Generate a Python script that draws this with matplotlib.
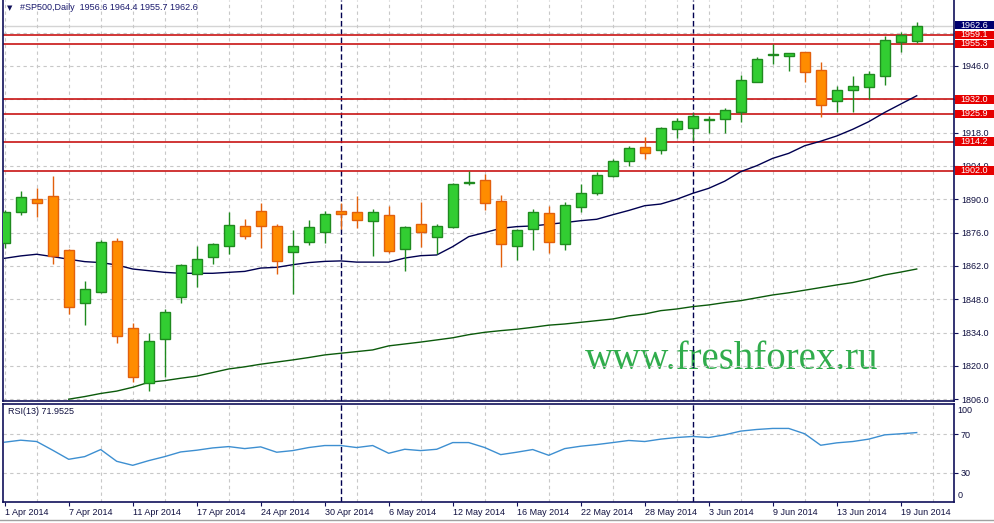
import numpy as np
import matplotlib
matplotlib.use('Agg')
import matplotlib.pyplot as plt
from matplotlib.patches import Rectangle

plt.rcParams['font.family'] = ['Liberation Sans', 'DejaVu Sans']

# daily bars, 1 Apr 2014 .. 20 Jun 2014
opens = [1871.5, 1884.8, 1890.0, 1891.4, 1868.6, 1846.5, 1851.2, 1872.3, 1835.8, 1812.9,
         1831.2, 1848.8, 1858.5, 1865.6, 1870.2, 1878.8, 1884.9, 1878.6, 1867.7, 1871.9,
         1876.1, 1884.9, 1884.5, 1880.7, 1883.3, 1869.2, 1879.5, 1874.3, 1878.2, 1896.9,
         1898.1, 1889.2, 1870.5, 1877.4, 1884.1, 1871.1, 1886.9, 1892.5, 1899.9, 1906.0,
         1911.8, 1910.6, 1919.7, 1920.1, 1923.4, 1923.9, 1926.8, 1939.4, 1950.6, 1950.3,
         1951.8, 1944.2, 1931.2, 1935.8, 1937.1, 1941.7, 1956.0, 1956.6]
highs = [1885.5, 1893.5, 1894.6, 1899.8, 1869.2, 1855.7, 1872.9, 1873.7, 1838.0, 1833.7,
         1843.8, 1862.8, 1870.4, 1871.5, 1884.5, 1881.7, 1888.4, 1879.7, 1877.0, 1881.3,
         1884.9, 1888.6, 1891.4, 1885.8, 1887.2, 1878.8, 1888.9, 1879.6, 1897.0, 1902.0,
         1900.6, 1891.8, 1877.3, 1885.9, 1887.3, 1888.9, 1896.4, 1901.3, 1906.8, 1912.4,
         1916.2, 1920.3, 1924.2, 1926.1, 1925.0, 1928.2, 1942.1, 1949.7, 1955.4, 1951.5,
         1952.0, 1947.8, 1937.6, 1941.8, 1943.9, 1958.5, 1960.2, 1964.4]
lows = [1869.4, 1883.4, 1882.7, 1862.8, 1841.9, 1837.3, 1850.5, 1829.7, 1813.4, 1809.6,
        1815.2, 1846.5, 1853.3, 1862.7, 1866.9, 1873.3, 1869.7, 1858.7, 1850.3, 1870.9,
        1871.8, 1877.4, 1877.9, 1866.2, 1867.3, 1860.0, 1870.1, 1866.9, 1878.0, 1896.0,
        1885.5, 1861.7, 1864.5, 1868.7, 1867.6, 1868.7, 1884.8, 1891.8, 1899.2, 1904.0,
        1906.8, 1909.2, 1915.9, 1914.9, 1918.0, 1917.7, 1922.6, 1939.2, 1947.0, 1944.0,
        1939.4, 1924.7, 1926.8, 1926.8, 1932.0, 1938.1, 1952.0, 1955.7]
closes = [1884.8, 1890.8, 1888.3, 1866.3, 1844.6, 1852.2, 1871.9, 1832.4, 1815.5, 1830.3,
          1842.5, 1862.3, 1864.8, 1871.1, 1879.1, 1874.7, 1878.9, 1863.9, 1870.2, 1878.2,
          1883.9, 1883.7, 1881.2, 1884.5, 1868.1, 1878.2, 1876.1, 1878.6, 1896.3, 1897.4,
          1888.3, 1871.2, 1877.0, 1884.5, 1872.2, 1887.5, 1892.5, 1900.1, 1906.0, 1911.5,
          1909.3, 1919.8, 1922.8, 1924.9, 1923.9, 1927.4, 1940.0, 1948.8, 1951.1, 1951.3,
          1943.6, 1929.5, 1935.8, 1937.6, 1942.5, 1956.8, 1958.9, 1962.6]

ma_fast = [1865.2, 1866.2, 1866.9, 1865.9, 1864.8, 1863.8, 1863.4, 1862.4, 1860.7, 1860.0,
           1859.3, 1858.9, 1858.9, 1858.9, 1859.3, 1859.7, 1861.1, 1861.4, 1862.5, 1863.4,
           1863.9, 1864.1, 1863.6, 1863.6, 1863.6, 1865.3, 1866.3, 1866.6, 1870.1, 1874.3,
           1876.0, 1877.8, 1878.5, 1878.8, 1879.5, 1880.2, 1881.0, 1881.6, 1883.5, 1885.3,
           1887.3, 1888.0, 1890.0, 1892.5, 1894.6, 1897.6, 1901.6, 1904.1, 1907.2, 1909.3,
           1912.5, 1914.4, 1916.6, 1919.4, 1922.6, 1926.5, 1930.0, 1933.5]
ma_slow_start = 4
ma_slow = [1806.0, 1807.1, 1808.4, 1809.4, 1811.0, 1813.1, 1813.8, 1814.8, 1815.7, 1817.2,
           1818.7, 1819.6, 1820.7, 1821.6, 1822.5, 1823.5, 1824.6, 1825.3, 1826.0, 1826.7,
           1828.4, 1829.2, 1830.0, 1830.9, 1831.8, 1833.1, 1834.1, 1834.8, 1835.4, 1836.2,
           1837.1, 1837.6, 1838.3, 1839.0, 1839.7, 1841.0, 1841.8, 1843.2, 1843.9, 1844.9,
           1845.6, 1846.6, 1847.4, 1848.6, 1849.8, 1850.7, 1851.8, 1852.9, 1854.0, 1855.0,
           1856.5, 1858.2, 1859.4, 1860.7]

rsi = [61.9, 64.0, 62.6, 53.5, 44.0, 46.8, 54.2, 41.9, 37.7, 42.6,
       46.8, 51.7, 53.5, 55.9, 57.3, 55.2, 57.0, 51.4, 53.1, 56.3,
       58.4, 58.4, 56.3, 58.4, 50.3, 54.5, 53.1, 54.5, 61.5, 61.5,
       56.3, 48.9, 51.4, 54.2, 48.2, 55.2, 57.7, 59.4, 61.5, 63.7,
       62.6, 65.1, 66.8, 67.9, 66.8, 69.6, 73.5, 75.2, 76.3, 76.3,
       70.7, 58.7, 61.2, 62.6, 65.1, 69.6, 70.7, 71.95]

levels = [1959.1, 1955.3, 1932.0, 1925.9, 1914.2, 1902.0]
last_price = 1962.6
date_labels = ['1 Apr 2014', '7 Apr 2014', '11 Apr 2014', '17 Apr 2014', '24 Apr 2014',
               '30 Apr 2014', '6 May 2014', '12 May 2014', '16 May 2014', '22 May 2014',
               '28 May 2014', '3 Jun 2014', '9 Jun 2014', '13 Jun 2014', '19 Jun 2014']
month_starts = [21, 43]  # 1 May, 2 Jun

W, H = 995, 523
NAVY = '#10105a'
GRID = '#c8c8c8'
FS = 6.5


def rect(x0, y0, x1, y1):
    return [x0 / W, 1 - y1 / H, (x1 - x0) / W, (y1 - y0) / H]


fig = plt.figure(figsize=(W / 100, H / 100), dpi=100)
ax = fig.add_axes(rect(3, 0, 954, 401))
ax_rsi = fig.add_axes(rect(3, 403.5, 954, 502))

n = len(opens)
x = np.arange(n)
o, h, l, c = map(np.array, (opens, highs, lows, closes))
bull = c >= o

xlim = (-0.106, 59.33)
for a in (ax, ax_rsi):
    a.set_xlim(*xlim)
    a.set_xticks(np.arange(0, 60, 2), minor=True)
    a.grid(which='minor', axis='x', color=GRID, linestyle=(0, (3, 3)), linewidth=0.8)
    a.tick_params(which='minor', length=0)
    for s in ('left', 'right', 'bottom', 'top'):
        a.spines[s].set_color(NAVY)
        a.spines[s].set_linewidth(1.2)
    a.yaxis.tick_right()
    a.tick_params(axis='y', direction='out', length=3, pad=2, labelsize=FS,
                  colors=NAVY, labelcolor='#101040')
    for m in month_starts:
        a.axvline(m, color='#000050', linestyle=(0, (4, 2)), linewidth=1, zorder=1.5)

ax.spines['top'].set_visible(False)

# main panel
ax.set_ylim(1805.24, 1973.73)
ticks = np.arange(1806, 1961, 14)
ax.set_yticks(ticks)
# labels hidden behind the level boxes are left blank
hidden = {1960, 1932}
ax.set_yticklabels(['' if t in hidden else f'{t:.1f}' for t in ticks])
ax.grid(which='major', axis='y', color=GRID, linestyle=(0, (3, 3)), linewidth=0.8)
ax.set_xticks([])
ax.axhline(last_price, color='#d4d4d4', linewidth=1, zorder=1)

for lv in levels:
    ax.axhline(lv, color='#c81414', linewidth=1.2, zorder=1.8)

ax.plot(x, ma_fast, color='#000050', linewidth=1, zorder=2)
ax.plot(np.arange(ma_slow_start, ma_slow_start + len(ma_slow)), ma_slow,
        color='#0b5a0b', linewidth=1, zorder=2)

edge = np.where(bull, '#1f8a1f', '#e2600c')
fill = np.where(bull, '#32cd32', '#ff8c00')
ax.vlines(x, l, h, colors=edge, linewidth=1, zorder=3)
body_lo = np.minimum(o, c)
body_h = np.maximum(np.abs(c - o), 0.4)
ax.bar(x, body_h, bottom=body_lo, width=0.62, color=fill, edgecolor=edge,
       linewidth=1, zorder=4)

# right-hand price boxes
tr = ax.get_yaxis_transform()
bx = (955 - 3) / 951
bw = 39 / 951
bh = 3.6
for lv in levels:
    ax.add_patch(Rectangle((bx, lv - bh / 2), bw, bh, transform=tr, clip_on=False,
                           facecolor='#e60000', edgecolor='none', zorder=6))
    ax.text(bx + bw / 2, lv, f'{lv:.1f}', transform=tr, ha='center', va='center',
            color='white', fontsize=FS, clip_on=False, zorder=7)
ax.add_patch(Rectangle((bx, last_price + 0.6 - bh / 2), bw, bh, transform=tr,
                       clip_on=False, facecolor='#00006e', edgecolor='none', zorder=6))
ax.text(bx + bw / 2, last_price + 0.6, f'{last_price:.1f}', transform=tr, ha='center',
        va='center', color='white', fontsize=FS, clip_on=False, zorder=7)

ax.text(0.7666, 0.08, 'www.freshforex.ru', transform=ax.transAxes, ha='center',
        va='baseline', fontsize=28, family='Liberation Serif', color='#30ac4c', zorder=1)

# RSI panel
ax_rsi.plot(x, rsi, color='#3d8fd1', linewidth=1, zorder=3)
ax_rsi.set_ylim(-0.7, 102.4)
ax_rsi.set_yticks([30, 70])
ax_rsi.set_yticklabels(['30', '70'])
ax_rsi.grid(which='major', axis='y', color=GRID, linestyle=(0, (3, 3)), linewidth=0.8)
rt = ax_rsi.get_yaxis_transform()
ax_rsi.text(1.004, 94.8, '100', transform=rt, va='center', fontsize=FS, color='#101040')
ax_rsi.text(1.004, 6.1, '0', transform=rt, va='center', fontsize=FS, color='#101040')

ax_rsi.set_xticks(np.arange(0, 57, 4))
ax_rsi.set_xticklabels(date_labels, ha='left')
ax_rsi.tick_params(axis='x', direction='out', length=3, pad=1.5, labelsize=FS,
                   colors=NAVY, labelcolor='#101040')

fig.text(7 / W, 1 - 8 / H, '\u25bc', fontsize=5, family='DejaVu Sans', color=NAVY,
         va='center')
fig.text(20 / W, 1 - 8 / H, '#SP500,Daily  1956.6 1964.4 1955.7 1962.6', fontsize=FS,
         color='#1a1a6e', va='center')
fig.text(8 / W, 1 - 412 / H, 'RSI(13) 71.9525', fontsize=FS, color='#101040', va='center')

fig.add_artist(plt.Line2D([0, 1], [3 / H, 3 / H], color='#a0a0a0', linewidth=1))

fig.savefig('out.png', dpi=100)
